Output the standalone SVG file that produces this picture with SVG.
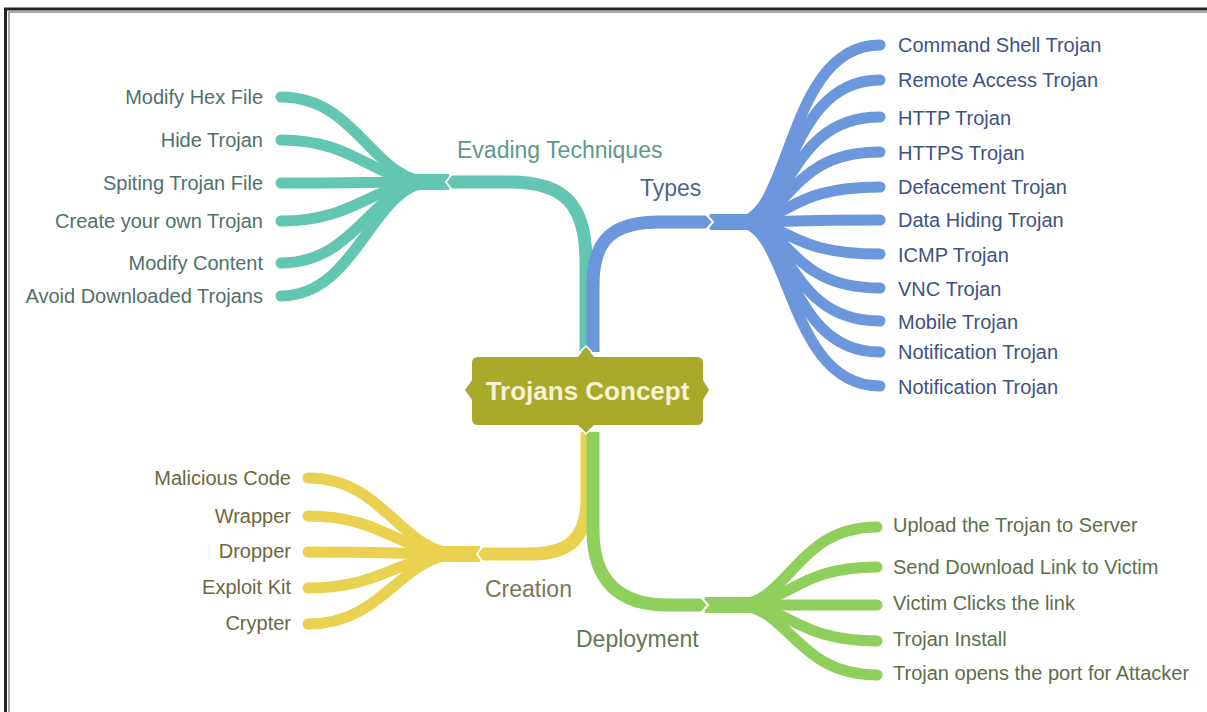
<svg xmlns="http://www.w3.org/2000/svg" width="1207" height="712" viewBox="0 0 1207 712">
<style>
  .t { font-family: "Liberation Sans", Arial, sans-serif; font-size: 20px; }
  .lbl { font-family: "Liberation Sans", Arial, sans-serif; font-size: 23px; }
  .teal { fill: none; stroke: #63c6b2; stroke-linecap: round; }
  .blue { fill: none; stroke: #6c97dc; stroke-linecap: round; }
  .yel { fill: none; stroke: #ead14f; stroke-linecap: round; }
  .grn { fill: none; stroke: #8fcf5b; stroke-linecap: round; }
  .leaf { stroke-width: 11; }
  .trunk { stroke-width: 13; stroke-linecap: butt; }
  .hub { stroke-width: 16; stroke-linecap: butt; }
  .chev { fill: none; stroke: #ffffff; stroke-width: 2; }
</style>
<rect x="0" y="0" width="1207" height="712" fill="#ffffff"/>
<rect x="5.5" y="9" width="1205" height="710" fill="none" stroke="#222222" stroke-width="3"/>
<rect x="9" y="12" width="1200" height="705" fill="none" stroke="#8a8a8a" stroke-width="1.5"/>

<g id="connectors">
  <!-- Evading Techniques -->
  <path class="teal trunk" d="M586 352 L586 262 C586 205 565 182 510 182 L447 182"/>
  <path class="teal hub" d="M449 182 L405 182"/>
  <g class="teal leaf">
    <path d="M432 182 C372 182 358 97 281 97"/>
    <path d="M432 182 C372 182 358 140 281 140"/>
    <path d="M432 182 C372 182 358 183 281 183"/>
    <path d="M432 182 C372 182 358 221 281 221"/>
    <path d="M432 182 C372 182 358 263 281 263"/>
    <path d="M432 182 C372 182 358 296 281 296"/>
  </g>
  <!-- Types -->
  <path class="blue trunk" d="M593 352 L593 285 C593 240 612 222 660 222 L712 222"/>
  <path class="blue hub" d="M710 222 L765 222"/>
  <g class="blue leaf">
    <path d="M738 222 C792 222 786 45 880 45"/>
    <path d="M738 222 C792 222 786 80 880 80"/>
    <path d="M738 222 C792 222 786 117 880 117"/>
    <path d="M738 222 C792 222 786 152 880 152"/>
    <path d="M738 222 C792 222 786 187 880 187"/>
    <path d="M738 222 C792 222 786 220 880 220"/>
    <path d="M738 222 C792 222 786 254 880 254"/>
    <path d="M738 222 C792 222 786 288 880 288"/>
    <path d="M738 222 C792 222 786 321 880 321"/>
    <path d="M738 222 C792 222 786 352 880 352"/>
    <path d="M738 222 C792 222 786 386 880 386"/>
  </g>
  <!-- Creation -->
  <path class="yel trunk" d="M587 432 L587 498 C587 538 570 554 530 554 L478 554"/>
  <path class="yel hub" d="M480 554 L420 554"/>
  <g class="yel leaf">
    <path d="M460 554 C400 554 385 478 308 478"/>
    <path d="M460 554 C400 554 385 516 308 516"/>
    <path d="M460 554 C400 554 385 552 308 552"/>
    <path d="M460 554 C400 554 385 588 308 588"/>
    <path d="M460 554 C400 554 385 624 308 624"/>
  </g>
  <!-- Deployment -->
  <path class="grn trunk" d="M593 432 L593 530 C593 582 620 605 668 605 L707 605"/>
  <path class="grn hub" d="M705 605 L760 605"/>
  <g class="grn leaf">
    <path d="M735 605 C790 605 795 527 877 527"/>
    <path d="M735 605 C790 605 795 567 877 567"/>
    <path d="M735 605 C790 605 795 605 877 605"/>
    <path d="M735 605 C790 605 795 641 877 641"/>
    <path d="M735 605 C790 605 795 675 877 675"/>
  </g>
  <!-- hub chevrons -->
  <polyline class="chev" points="452,174 446,182 452,190"/>
  <polyline class="chev" points="706,214 713,222 706,230"/>
  <polyline class="chev" points="483,546 477,554 483,562"/>
  <polyline class="chev" points="701,597 708,605 701,613"/>
</g>

<g id="center">
  <path d="M478 357 L578 357 L586 347 L594 357 L697 357 Q703 357 703 363 L703 380 L709 390 L703 400 L703 419 Q703 425 697 425 L594 425 L586 433 L578 425 L478 425 Q472 425 472 419 L472 400 L465 390 L472 380 L472 363 Q472 357 478 357 Z" fill="#a9a92b"/>
  <polyline points="580,352 586,346 592,352" fill="none" stroke="#ffffff" stroke-width="1.5"/>
  <polyline points="580,428 586,434 592,428" fill="none" stroke="#ffffff" stroke-width="1.5"/>
  <text x="587.5" y="400" text-anchor="middle" font-family="'Liberation Sans', Arial, sans-serif" font-size="26" font-weight="bold" fill="#f6f2d2">Trojans Concept</text>
</g>

<g id="evading">
  <text class="lbl" x="457" y="158" fill="#5b9a8c">Evading Techniques</text>
  <g class="t" fill="#51706a" text-anchor="end">
    <text x="263" y="104">Modify Hex File</text>
    <text x="263" y="147">Hide Trojan</text>
    <text x="263" y="190">Spiting Trojan File</text>
    <text x="263" y="228">Create your own Trojan</text>
    <text x="263" y="270">Modify Content</text>
    <text x="263" y="303">Avoid Downloaded Trojans</text>
  </g>
</g>

<g id="types">
  <text class="lbl" x="640" y="196" fill="#4f6685">Types</text>
  <g class="t" fill="#3f5282">
    <text x="898" y="52">Command Shell Trojan</text>
    <text x="898" y="87">Remote Access Trojan</text>
    <text x="898" y="125">HTTP Trojan</text>
    <text x="898" y="160">HTTPS Trojan</text>
    <text x="898" y="194">Defacement Trojan</text>
    <text x="898" y="227">Data Hiding Trojan</text>
    <text x="898" y="262">ICMP Trojan</text>
    <text x="898" y="296">VNC Trojan</text>
    <text x="898" y="329">Mobile Trojan</text>
    <text x="898" y="359">Notification Trojan</text>
    <text x="898" y="394">Notification Trojan</text>
  </g>
</g>

<g id="creation">
  <text class="lbl" x="485" y="597" fill="#7a7658">Creation</text>
  <g class="t" fill="#6d6740" text-anchor="end">
    <text x="291" y="485">Malicious Code</text>
    <text x="291" y="523">Wrapper</text>
    <text x="291" y="558">Dropper</text>
    <text x="291" y="594">Exploit Kit</text>
    <text x="291" y="630">Crypter</text>
  </g>
</g>

<g id="deployment">
  <text class="lbl" x="576" y="647" fill="#627656">Deployment</text>
  <g class="t" fill="#5b6f4a">
    <text x="893" y="532">Upload the Trojan to Server</text>
    <text x="893" y="574">Send Download Link to Victim</text>
    <text x="893" y="610">Victim Clicks the link</text>
    <text x="893" y="646">Trojan Install</text>
    <text x="893" y="680">Trojan opens the port for Attacker</text>
  </g>
</g>
</svg>
